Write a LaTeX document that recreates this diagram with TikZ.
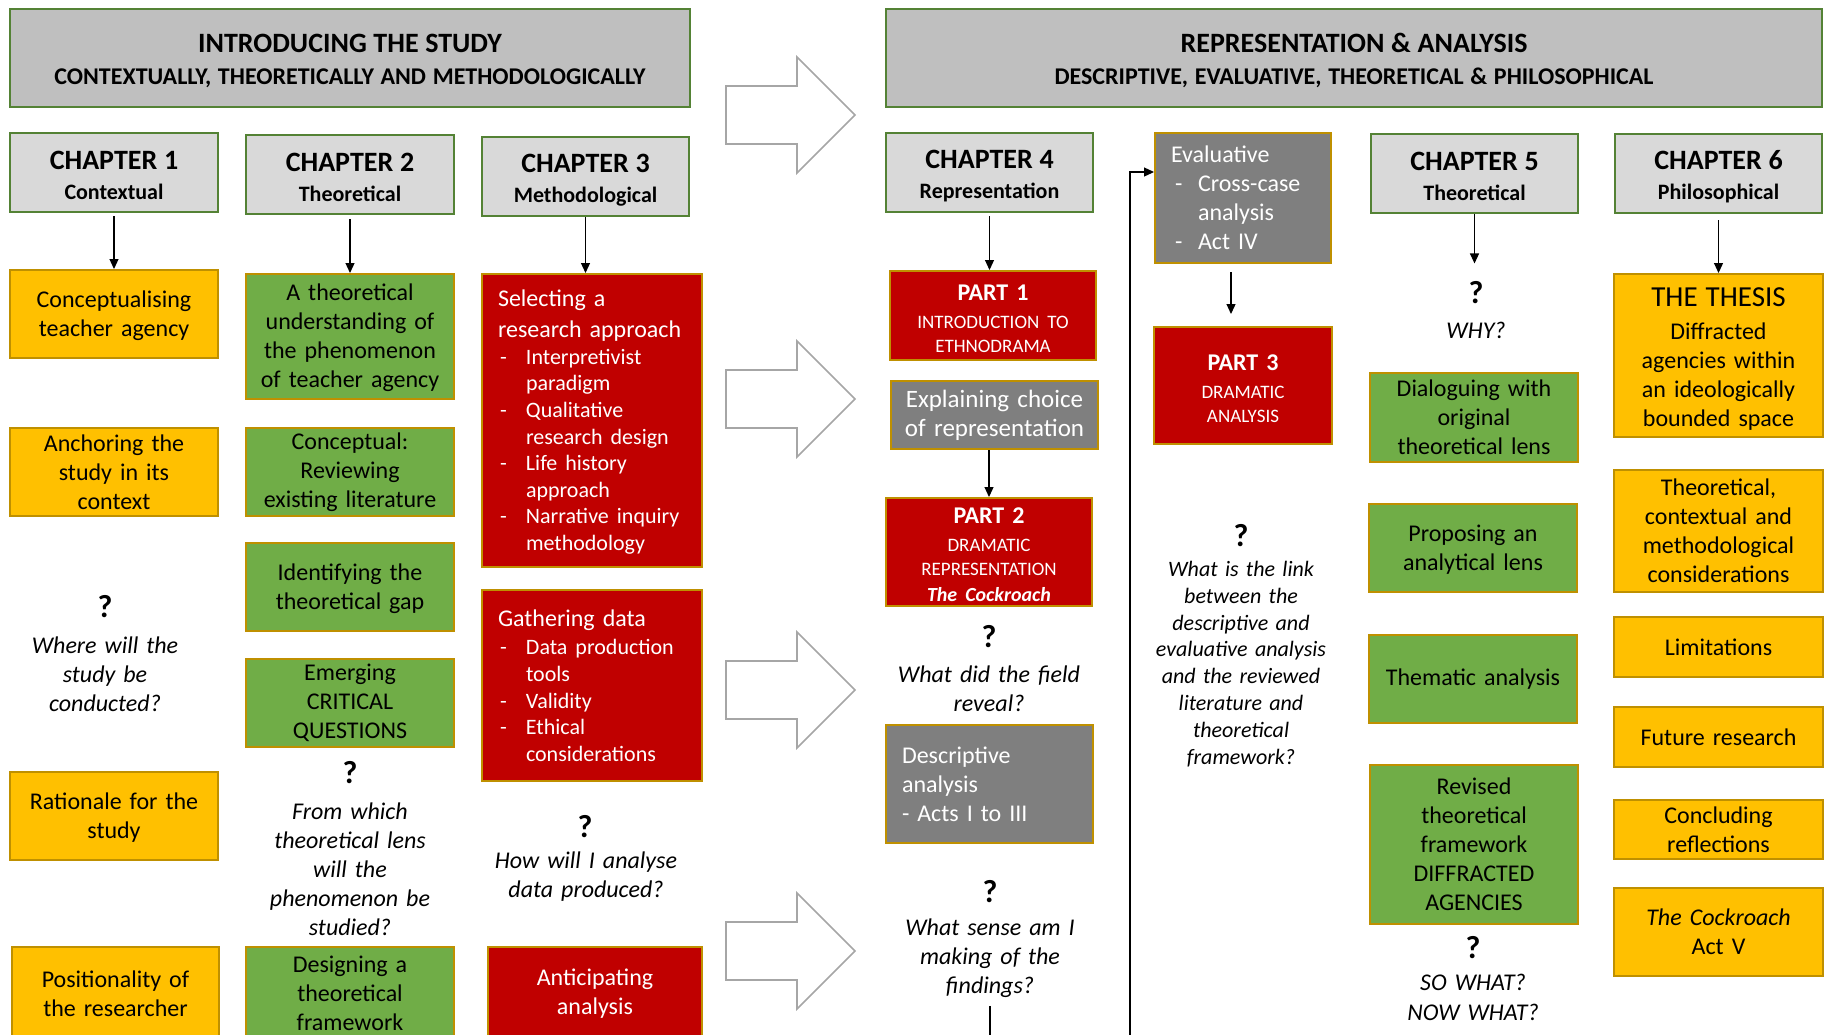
\documentclass[tikz,border=0pt]{standalone}
\usepackage{fontspec}
\setmainfont{Carlito}
\usetikzlibrary{arrows.meta}
\definecolor{hdrgray}{HTML}{BFBFBF}
\definecolor{chapgray}{HTML}{D9D9D9}
\definecolor{dkgreen}{HTML}{548235}
\definecolor{goldline}{HTML}{BF9000}
\definecolor{yel}{HTML}{FFC000}
\definecolor{grn}{HTML}{70AD47}
\definecolor{rd}{HTML}{C00000}
\definecolor{dgray}{HTML}{7F7F7F}
\definecolor{arrgray}{HTML}{A6A6A6}
\newcommand\szbody{\fontsize{12}{14.5}\selectfont}
\newcommand\szlist{\fontsize{11}{13.3}\selectfont}
\newcommand\szchap{\fontsize{14}{17}\selectfont\bfseries}
\newcommand\szsub{\fontsize{11}{13}\selectfont\bfseries}
\newcommand\szq{\fontsize{16}{18}\selectfont\bfseries}
\newcommand\szhead{\fontsize{14}{17}\selectfont\bfseries}
\newcommand\szheadsub{\fontsize{12}{14}\selectfont\bfseries}
\newcommand\szpart{\fontsize{12}{14}\selectfont\bfseries}
\newcommand\szsmall{\fontsize{9.5}{12}\selectfont\mdseries}
\newcommand\szthesis{\fontsize{14.5}{17}\selectfont}
\newcommand\szlink{\fontsize{11}{13.4}\selectfont\itshape}
\newcommand\topstrut[1]{\rule{0pt}{#1}}
\newcommand\bl[1]{\makebox[14pt][l]{\hspace{1pt}-}#1}
\newcommand\bc[1]{\hspace*{14pt}#1}
\tikzset{
  boxat/.code n args={4}{%
    \pgfmathsetmacro\rcx{(#1+#3)/2}%
    \pgfmathsetmacro\rcy{(#2+#4)/2}%
    \pgfmathsetmacro\rcw{(#3-#1)*0.5}%
    \pgfmathsetmacro\rch{(#4-#2)*0.5}%
    \pgfmathsetmacro\rctw{(#3-#1)*0.5-8}%
    \edef\rctmp{\noexpand\tikzset{at={(\rcx,\rcy)},minimum width=\rcw pt,minimum height=\rch pt,text width=\rctw pt}}%
    \rctmp},
  box/.style={draw=goldline, line width=1pt, inner xsep=4pt, inner ysep=0pt, align=center, font=\szbody},
  ybox/.style={box, fill=yel},
  gbox/.style={box, fill=grn},
  rbox/.style={box, fill=rd, text=white},
  dbox/.style={box, fill=dgray, text=white},
  chap/.style={draw=dkgreen, line width=1.2pt, fill=chapgray, inner xsep=4pt, inner ysep=0pt, align=center},
  hdr/.style={draw=dkgreen, line width=1.2pt, fill=hdrgray, inner xsep=4pt, inner ysep=0pt, align=center},
  conn/.style={draw=black, line width=0.6pt, -{Triangle[length=5pt,width=4.5pt]}},
  bigarrow/.style={draw=arrgray, line width=0.8pt, fill=white},
  qtxt/.style={align=center, text width=110pt, inner sep=4pt, font=\szbody\itshape},
  qmark/.style={inner sep=0pt, font=\szq}
}
\begin{document}
\begin{tikzpicture}[x=0.5pt,y=-0.5pt]
\path[use as bounding box] (0,0) rectangle (1829,1034);
\clip (0,0) rectangle (1829,1034);

% big block arrows
\foreach \t in {115,399,690,951}{
  \draw[bigarrow] (726,\t-29) -- (797,\t-29) -- (797,\t-58) -- (855,\t) -- (797,\t+58) -- (797,\t+29) -- (726,\t+29) -- cycle;
}

% headers
\node[hdr, boxat={10}{9}{690}{107}] (hl) {\szhead\topstrut{12pt}INTRODUCING THE STUDY\\[4pt]\szheadsub CONTEXTUALLY, THEORETICALLY AND METHODOLOGICALLY};
\node[hdr, boxat={886}{9}{1822}{107}] (hr) {\szhead\topstrut{12pt}REPRESENTATION \& ANALYSIS\\[4pt]\szheadsub DESCRIPTIVE, EVALUATIVE, THEORETICAL \& PHILOSOPHICAL};

% chapter boxes
\node[chap, boxat={10}{133}{218}{212}] (ch1) {\szchap\topstrut{12.5pt}CHAPTER 1\\[3pt]\szsub Contextual};
\node[chap, boxat={246}{135}{454}{214}] (ch2) {\szchap\topstrut{12.5pt}CHAPTER 2\\[3pt]\szsub Theoretical};
\node[chap, boxat={482}{137}{689}{216}] (ch3) {\szchap\topstrut{12.5pt}CHAPTER 3\\[3pt]\szsub Methodological};
\node[chap, boxat={886}{133}{1093}{212}] (ch4) {\szchap\topstrut{12.5pt}CHAPTER 4\\[3pt]\szsub Representation};
\node[chap, boxat={1371}{134}{1578}{213}] (ch5) {\szchap\topstrut{12.5pt}CHAPTER 5\\[3pt]\szsub Theoretical};
\node[chap, boxat={1615}{134}{1822}{213}] (ch6) {\szchap\topstrut{12.5pt}CHAPTER 6\\[3pt]\szsub Philosophical};

% column 1
\node[ybox, boxat={10}{270}{218}{358}] (c1a) {\topstrut{10pt}Conceptualising\\teacher agency};
\node[ybox, boxat={10}{428}{218}{516}] (c1b) {Anchoring the\\study in its\\context};
\node[qmark] (q1) at (105,607) {?};
\node[qtxt] (q1t) at (105,674) {Where will the\\study be\\conducted?};
\node[ybox, boxat={10}{772}{218}{860}] (c1c) {\topstrut{10pt}Rationale for the\\study};
\node[ybox, boxat={12}{947}{219}{1040}] (c1d) {Positionality of\\the researcher};

% column 2
\node[gbox, boxat={246}{274}{454}{399}] (c2a) {\topstrut{10pt}A theoretical\\understanding of\\the phenomenon\\of teacher agency};
\node[gbox, boxat={246}{428}{454}{516}] (c2b) {Conceptual:\\Reviewing\\existing literature};
\node[gbox, boxat={246}{543}{454}{631}] (c2c) {\topstrut{10pt}Identifying the\\theoretical gap};
\node[gbox, boxat={246}{659}{454}{747}] (c2d) {Emerging\\CRITICAL\\QUESTIONS};
\node[qmark] (q2) at (350,773) {?};
\node[qtxt] (q2t) at (350,869) {From which\\theoretical lens\\will the\\phenomenon be\\studied?};
\node[gbox, boxat={246}{947}{454}{1040}] (c2e) {Designing a\\theoretical\\framework};

% column 3
\node[rbox, boxat={482}{274}{702}{567}, align=left, inner xsep=8pt, text width=94pt] (c3a)
  {\fontsize{12}{15.5}\selectfont\topstrut{10pt}Selecting a\\research approach\par
   \szlist\bl{Interpretivist}\\\bc{paradigm}\\\bl{Qualitative}\\\bc{research design}\\\bl{Life history}\\\bc{approach}\\\bl{Narrative inquiry}\\\bc{methodology}\par};
\node[rbox, boxat={482}{590}{702}{781}, align=left, inner xsep=8pt, text width=94pt] (c3b)
  {Gathering data\par\vspace{1pt}
   \szlist\bl{Data production}\\\bc{tools}\\\bl{Validity}\\\bl{Ethical}\\\bc{considerations}\par};
\node[qmark] (q3) at (585,827) {?};
\node[qtxt] (q3t) at (586,877) {How will I analyse\\data produced?};
\node[rbox, boxat={488}{947}{702}{1040}] (c3c) {Anticipating\\analysis};

% column 4
\node[rbox, boxat={890}{271}{1096}{360}] (p1) {\szpart\topstrut{11pt}PART 1\\[2pt]\szsmall INTRODUCTION TO\\ETHNODRAMA\par};
\node[dbox, boxat={891}{381}{1098}{449}, font=\fontsize{12.5}{14.5}\selectfont] (ex) {Explaining choice\\of representation};
\node[rbox, boxat={886}{498}{1092}{606}] (p2) {\szpart\topstrut{11pt}PART 2\\[2pt]\szsmall DRAMATIC\\REPRESENTATION\\[1pt]{\fontsize{10}{12}\selectfont\bfseries\itshape The Cockroach}\par};
\node[qmark] (q4) at (989,637) {?};
\node[qtxt] (q4t) at (989,689) {What did the field\\reveal?};
\node[dbox, boxat={886}{725}{1093}{843}, align=left, inner xsep=8pt, text width=87.5pt] (da) {Descriptive\\analysis\\- Acts I to III};
\node[qmark] (q5) at (990,892) {?};
\node[qtxt] (q5t) at (990,958) {What sense am I\\making of the\\findings?};

% evaluative column
\node[dbox, boxat={1155}{133}{1331}{263}, align=left, inner xsep=8pt, text width=72pt] (ev)
  {Evaluative\\\makebox[13.5pt][l]{\hspace{2pt}-}Cross-case\\\hspace*{13.5pt}analysis\\\makebox[13.5pt][l]{\hspace{2pt}-}Act IV};
\node[rbox, boxat={1154}{327}{1332}{444}] (p3) {\szpart\topstrut{11pt}PART 3\\[2pt]\szsmall DRAMATIC\\ANALYSIS\par};
\node[qmark] (q6) at (1241,536) {?};
\node[qtxt, font=\szlink] (q6t) at (1241,664) {What is the link\\between the\\descriptive and\\evaluative analysis\\and the reviewed\\literature and\\theoretical\\framework?};

% column 5
\node[qmark] (q7) at (1476,293) {?};
\node[qtxt] (q7t) at (1476,330) {WHY?};
\node[gbox, boxat={1370}{373}{1578}{462}] (c5a) {Dialoguing with\\original\\theoretical lens};
\node[gbox, boxat={1369}{504}{1577}{592}] (c5b) {\topstrut{10pt}Proposing an\\analytical lens};
\node[gbox, boxat={1369}{635}{1577}{723}] (c5c) {Thematic analysis};
\node[gbox, boxat={1370}{765}{1578}{924}] (c5d) {Revised\\theoretical\\framework\\DIFFRACTED\\AGENCIES};
\node[qmark] (q8) at (1473,948) {?};
\node[qtxt, font=\fontsize{12}{15}\selectfont\itshape] (q8t) at (1473,997) {SO WHAT?\\NOW WHAT?};

% column 6
\node[ybox, boxat={1614}{274}{1823}{437}] (c6a) {\szthesis\topstrut{13pt}THE THESIS\\[2pt]\szbody Diffracted\\agencies within\\an ideologically\\bounded space};
\node[ybox, boxat={1614}{470}{1823}{592}] (c6b) {Theoretical,\\contextual and\\methodological\\considerations};
\node[ybox, boxat={1614}{617}{1823}{677}] (c6c) {Limitations};
\node[ybox, boxat={1614}{707}{1823}{767}] (c6d) {Future research};
\node[ybox, boxat={1614}{800}{1823}{859}] (c6e) {Concluding\\reflections};
\node[ybox, boxat={1614}{888}{1823}{976}] (c6f) {\textit{The Cockroach}\\Act V};

% connectors
\draw[conn, shorten <=1.5pt] (ch1.south) -- (c1a.north);
\draw[conn, shorten <=2pt] (ch2.south) -- (c2a.north);
\draw[conn] (ch3.south) -- (ch3.south |- c3a.north);
\draw[conn, shorten <=1.5pt] (ch4.south) -- (ch4.south |- p1.north);
\draw[conn] (p2.north |- ex.south) -- (p2.north);
\draw[conn, shorten <=4pt, shorten >=6pt] ([xshift=-6pt]ev.south) -- ([xshift=-6pt]p3.north);
\draw[conn, shorten >=9pt] (ch5.south) -- (ch5.south |- q7.north);
\draw[conn, shorten <=3pt] (ch6.south) -- (ch6.south |- c6a.north);
\coordinate (lowbend) at (1130,1060);
\coordinate (highbend) at (1130,172);
\draw[conn] (q5t.south) |- (lowbend) -- (highbend) -- (highbend -| ev.west);
\end{tikzpicture}
\end{document}
